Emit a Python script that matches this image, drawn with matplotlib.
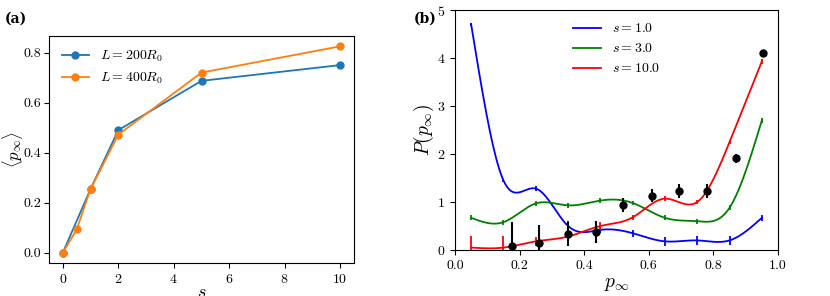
"""Two-panel figure: mean p_inf versus s, and the distribution P(p_inf)."""

import matplotlib

matplotlib.use("Agg")
import matplotlib.pyplot as plt
import numpy as np

plt.rcParams["font.family"] = "serif"
plt.rcParams["font.serif"] = ["cmr10", "DejaVu Serif"]
plt.rcParams["mathtext.fontset"] = "cm"
plt.rcParams["axes.formatter.use_mathtext"] = True
plt.rcParams["font.size"] = 10

# panel (a)
s_200 = [0, 1, 2, 5, 10]
p_200 = [0.0, 0.255, 0.49, 0.687, 0.75]
s_400 = [0, 0.5, 1, 2, 5, 10]
p_400 = [0.0, 0.093, 0.255, 0.472, 0.72, 0.825]

# panel (b)
bins = [0.05, 0.15, 0.25, 0.35, 0.45, 0.55, 0.65, 0.75, 0.85, 0.95]
p_s1 = [4.70, 1.45, 1.28, 0.50, 0.42, 0.35, 0.18, 0.20, 0.20, 0.67]
e_s1 = [0.03, 0.03, 0.05, 0.10, 0.06, 0.07, 0.10, 0.10, 0.10, 0.06]
p_s3 = [0.67, 0.58, 0.97, 0.93, 1.03, 0.98, 0.67, 0.60, 0.88, 2.70]
e_s3 = [0.05, 0.05, 0.05, 0.05, 0.05, 0.05, 0.05, 0.05, 0.05, 0.05]
p_s10 = [0.05, 0.05, 0.18, 0.28, 0.50, 0.68, 1.07, 1.00, 2.25, 3.93]
e_s10 = [0.25, 0.25, 0.10, 0.08, 0.08, 0.05, 0.05, 0.05, 0.05, 0.05]

obs_x = [0.175, 0.26, 0.35, 0.435, 0.52, 0.61, 0.695, 0.78, 0.87, 0.955]
obs_y = [0.08, 0.14, 0.33, 0.37, 0.94, 1.13, 1.23, 1.23, 1.91, 4.11]
obs_e = [0.50, 0.38, 0.25, 0.23, 0.14, 0.14, 0.14, 0.14, 0.09, 0.05]


def natural_spline(x, y, num=300):
    """Smooth curve through the points (natural cubic spline)."""
    x = np.asarray(x, float)
    y = np.asarray(y, float)
    n = len(x)
    h = np.diff(x)
    a = np.zeros((n, n))
    b = np.zeros(n)
    a[0, 0] = a[-1, -1] = 1.0
    for i in range(1, n - 1):
        a[i, i - 1] = h[i - 1]
        a[i, i] = 2 * (h[i - 1] + h[i])
        a[i, i + 1] = h[i]
        b[i] = 6 * ((y[i + 1] - y[i]) / h[i] - (y[i] - y[i - 1]) / h[i - 1])
    m = np.linalg.solve(a, b)
    xs = np.linspace(x[0], x[-1], num)
    k = np.clip(np.searchsorted(x, xs) - 1, 0, n - 2)
    t0 = xs - x[k]
    t1 = x[k + 1] - xs
    hk = h[k]
    ys = (
        m[k] * t1**3 / (6 * hk)
        + m[k + 1] * t0**3 / (6 * hk)
        + (y[k] / hk - m[k] * hk / 6) * t1
        + (y[k + 1] / hk - m[k + 1] * hk / 6) * t0
    )
    return xs, ys


fig = plt.figure(figsize=(8.3, 2.96), dpi=100)
W, H = 830, 296
ax_a = fig.add_axes([49 / W, (H - 263) / H, 305 / W, 227 / H])
ax_b = fig.add_axes([455 / W, (H - 250) / H, 323 / W, 240 / H])

ax_a.plot(s_200, p_200, "o-", color="tab:blue", ms=5, lw=1.3, label=r"$L = 200R_0$")
ax_a.plot(s_400, p_400, "o-", color="tab:orange", ms=5, lw=1.3, label=r"$L = 400R_0$")
ax_a.set_xticks([0, 2, 4, 6, 8, 10])
ax_a.set_yticks([0.0, 0.2, 0.4, 0.6, 0.8])
ax_a.set_yticklabels(["0.0", "0.2", "0.4", "0.6", "0.8"])
ax_a.tick_params(axis="y", pad=2)
ax_a.set_xlabel(r"$s$", fontsize=13, labelpad=-1)
ax_a.set_ylabel(r"$\langle p_\infty \rangle$", fontsize=12)
ax_a.yaxis.set_label_coords(-0.078, 0.5)
ax_a.legend(loc="upper left", frameon=False, fontsize=10)

for vals, errs, color, label in [
    (p_s1, e_s1, "b", r"$s = 1.0$"),
    (p_s3, e_s3, "g", r"$s = 3.0$"),
    (p_s10, e_s10, "r", r"$s = 10.0$"),
]:
    xs, ys = natural_spline(bins, vals)
    ax_b.plot(xs, ys, color=color, lw=1.3, label=label)
    ax_b.errorbar(bins, vals, yerr=errs, fmt="none", ecolor=color, elinewidth=1.3,
                  capsize=0)

ax_b.errorbar(obs_x, obs_y, yerr=obs_e, fmt="o", color="k", ms=5, elinewidth=1.5,
              capsize=0)
ax_b.set_xlim(0, 1)
ax_b.set_ylim(0, 5)
ax_b.set_xticks([0.0, 0.2, 0.4, 0.6, 0.8, 1.0])
ax_b.set_xticklabels(["0.0", "0.2", "0.4", "0.6", "0.8", "1.0"])
ax_b.set_xlabel(r"$p_\infty$", fontsize=14, labelpad=2)
ax_b.set_ylabel(r"$P(p_\infty)$", fontsize=14)
ax_b.yaxis.set_label_coords(-0.058, 0.5)
ax_b.legend(loc="upper center", frameon=False, fontsize=10)

bold = dict(family="DejaVu Serif", fontweight="bold", fontsize=10, va="center")
fig.text(5 / W, 1 - 19 / H, "(a)", **bold)
fig.text(414 / W, 1 - 19 / H, "(b)", **bold)

fig.savefig("out.png", dpi=100)
